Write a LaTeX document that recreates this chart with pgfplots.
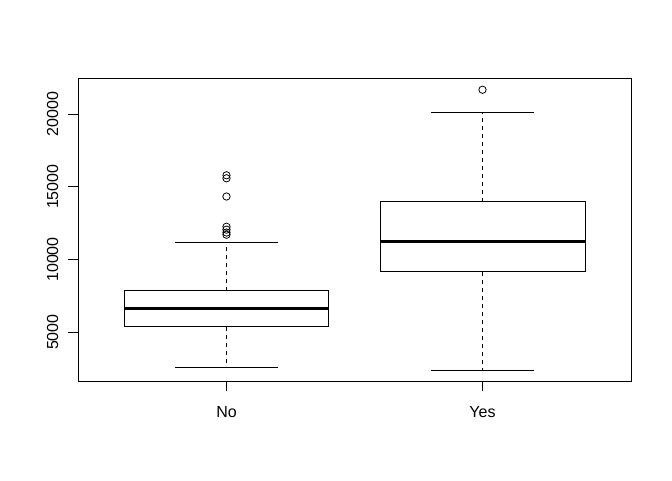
\documentclass[border=0pt]{standalone}
\usepackage{pgfplots}
\pgfplotsset{compat=1.18}
\usepackage{fontspec}
\setmainfont{Liberation Sans}
\begin{document}
\begin{tikzpicture}
\path[use as bounding box] (-58.5pt,-73.7pt) rectangle (445.5pt,286.3pt);
\begin{axis}[
  at={(0pt,0pt)}, anchor=south west,
  scale only axis,
  width=414.75pt, height=227.6pt,
  xmin=0.42, xmax=2.58,
  ymin=1590, ymax=22460,
  xtick={1,2}, xticklabels={No,Yes},
  ytick={5000,10000,15000,20000},
  tick align=outside,
  major tick length=7.2pt,
  tick style={black, line width=0.6pt},
  xtick pos=bottom, ytick pos=left,
  axis line style={black, line width=0.6pt},
  yticklabel style={rotate=90, anchor=south, yshift=4pt, font=\fontsize{12}{14}\selectfont},
  xticklabel style={anchor=north, yshift=-8pt, font=\fontsize{12}{14}\selectfont},
  /pgf/number format/assume math mode=true,
  /pgf/number format/1000 sep={},
  scaled y ticks=false,
  clip=false,
]
% ---- No ----
\addplot[black, line width=0.6pt] coordinates {(0.6,5365) (1.4,5365) (1.4,7842) (0.6,7842) (0.6,5365)};
\addplot[black, line width=2.25pt] coordinates {(0.6,6624) (1.4,6624)};
\addplot[black, line width=0.6pt, dash pattern=on 3pt off 3pt] coordinates {(1,7842) (1,11192)};
\addplot[black, line width=0.6pt, dash pattern=on 3pt off 3pt] coordinates {(1,5365) (1,2592)};
\addplot[black, line width=0.6pt] coordinates {(0.8,11192) (1.2,11192)};
\addplot[black, line width=0.6pt] coordinates {(0.8,2592) (1.2,2592)};
\addplot[black, only marks, mark=o, mark size=2.75pt, mark options={line width=0.6pt}] coordinates {
  (1,15788) (1,15582) (1,14329) (1,12250) (1,12050) (1,11850) (1,11700)};
% ---- Yes ----
\addplot[black, line width=0.6pt] coordinates {(1.6,9149) (2.4,9149) (2.4,13965) (1.6,13965) (1.6,9149)};
\addplot[black, line width=2.25pt] coordinates {(1.6,11213) (2.4,11213)};
\addplot[black, line width=0.6pt, dash pattern=on 3pt off 3pt] coordinates {(2,13965) (2,20108)};
\addplot[black, line width=0.6pt, dash pattern=on 3pt off 3pt] coordinates {(2,9149) (2,2358)};
\addplot[black, line width=0.6pt] coordinates {(1.8,20108) (2.2,20108)};
\addplot[black, line width=0.6pt] coordinates {(1.8,2358) (2.2,2358)};
\addplot[black, only marks, mark=o, mark size=2.75pt, mark options={line width=0.6pt}] coordinates {(2,21670)};
\end{axis}
\end{tikzpicture}
\end{document}
